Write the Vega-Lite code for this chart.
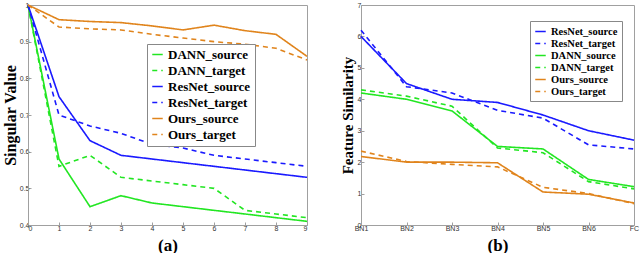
{
  "$schema": "https://vega.github.io/schema/vega-lite/v6.json",
  "background": "white",
  "padding": {"left": 1, "top": 0, "right": 3, "bottom": 0},
  "spacing": 28,
  "config": {
    "view": {"stroke": "#a0a0a0", "strokeWidth": 1},
    "axis": {"grid": false, "labelFont": "Liberation Sans", "labelFontSize": 7, "labelColor": "#333", "domainColor": "#a0a0a0", "tickColor": "#a0a0a0", "tickSize": -3, "labelPadding": 3, "titleFont": "Liberation Serif", "titleFontWeight": "bold", "titleColor": "#000"},
    "legend": {"title": null, "orient": "none", "fillColor": "white", "strokeColor": "#888", "symbolType": "stroke", "symbolStrokeWidth": 1.6, "labelFont": "Liberation Serif", "labelFontWeight": "bold", "labelColor": "#000", "labelLimit": 300}
  },
  "resolve": {"scale": {"color": "independent", "strokeDash": "independent"}, "legend": {"color": "independent", "strokeDash": "independent"}},
  "hconcat": [
    {
      "width": 279,
      "height": 220,
      "data": {"values": [
        {"x": 0, "v": 1, "s": "DANN_source"}, {"x": 1, "v": 0.58, "s": "DANN_source"}, {"x": 2, "v": 0.45, "s": "DANN_source"}, {"x": 3, "v": 0.48, "s": "DANN_source"}, {"x": 4, "v": 0.46, "s": "DANN_source"}, {"x": 5, "v": 0.45, "s": "DANN_source"}, {"x": 6, "v": 0.44, "s": "DANN_source"}, {"x": 7, "v": 0.43, "s": "DANN_source"}, {"x": 8, "v": 0.42, "s": "DANN_source"}, {"x": 9, "v": 0.41, "s": "DANN_source"},
        {"x": 0, "v": 1, "s": "DANN_target"}, {"x": 1, "v": 0.56, "s": "DANN_target"}, {"x": 2, "v": 0.59, "s": "DANN_target"}, {"x": 3, "v": 0.53, "s": "DANN_target"}, {"x": 4, "v": 0.52, "s": "DANN_target"}, {"x": 5, "v": 0.51, "s": "DANN_target"}, {"x": 6, "v": 0.5, "s": "DANN_target"}, {"x": 7, "v": 0.44, "s": "DANN_target"}, {"x": 8, "v": 0.43, "s": "DANN_target"}, {"x": 9, "v": 0.42, "s": "DANN_target"},
        {"x": 0, "v": 1, "s": "ResNet_source"}, {"x": 1, "v": 0.75, "s": "ResNet_source"}, {"x": 2, "v": 0.63, "s": "ResNet_source"}, {"x": 3, "v": 0.59, "s": "ResNet_source"}, {"x": 4, "v": 0.58, "s": "ResNet_source"}, {"x": 5, "v": 0.57, "s": "ResNet_source"}, {"x": 6, "v": 0.56, "s": "ResNet_source"}, {"x": 7, "v": 0.55, "s": "ResNet_source"}, {"x": 8, "v": 0.54, "s": "ResNet_source"}, {"x": 9, "v": 0.53, "s": "ResNet_source"},
        {"x": 0, "v": 1, "s": "ResNet_target"}, {"x": 1, "v": 0.7, "s": "ResNet_target"}, {"x": 2, "v": 0.67, "s": "ResNet_target"}, {"x": 3, "v": 0.65, "s": "ResNet_target"}, {"x": 4, "v": 0.62, "s": "ResNet_target"}, {"x": 5, "v": 0.61, "s": "ResNet_target"}, {"x": 6, "v": 0.59, "s": "ResNet_target"}, {"x": 7, "v": 0.58, "s": "ResNet_target"}, {"x": 8, "v": 0.57, "s": "ResNet_target"}, {"x": 9, "v": 0.56, "s": "ResNet_target"},
        {"x": 0, "v": 1, "s": "Ours_source"}, {"x": 1, "v": 0.96, "s": "Ours_source"}, {"x": 2, "v": 0.955, "s": "Ours_source"}, {"x": 3, "v": 0.952, "s": "Ours_source"}, {"x": 4, "v": 0.943, "s": "Ours_source"}, {"x": 5, "v": 0.932, "s": "Ours_source"}, {"x": 6, "v": 0.945, "s": "Ours_source"}, {"x": 7, "v": 0.93, "s": "Ours_source"}, {"x": 8, "v": 0.92, "s": "Ours_source"}, {"x": 9, "v": 0.86, "s": "Ours_source"},
        {"x": 0, "v": 1, "s": "Ours_target"}, {"x": 1, "v": 0.94, "s": "Ours_target"}, {"x": 2, "v": 0.935, "s": "Ours_target"}, {"x": 3, "v": 0.932, "s": "Ours_target"}, {"x": 4, "v": 0.92, "s": "Ours_target"}, {"x": 5, "v": 0.91, "s": "Ours_target"}, {"x": 6, "v": 0.9, "s": "Ours_target"}, {"x": 7, "v": 0.893, "s": "Ours_target"}, {"x": 8, "v": 0.882, "s": "Ours_target"}, {"x": 9, "v": 0.85, "s": "Ours_target"}
      ]},
      "mark": {"type": "line", "strokeWidth": 1.6},
      "encoding": {
        "x": {"field": "x", "type": "quantitative", "scale": {"domain": [0, 9], "nice": false}, "axis": {"values": [0, 1, 2, 3, 4, 5, 6, 7, 8, 9], "title": "(a)", "titleFontSize": 17, "titlePadding": 6, "labelPadding": 2}},
        "y": {"field": "v", "type": "quantitative", "scale": {"domain": [0.4, 1], "nice": false, "zero": false}, "axis": {"values": [0.4, 0.5, 0.6, 0.7, 0.8, 0.9, 1], "format": "~g", "title": "Singular Value", "titleFontSize": 16, "titlePadding": 1, "labelPadding": 2}},
        "color": {"field": "s", "type": "nominal", "scale": {"domain": ["DANN_source", "DANN_target", "ResNet_source", "ResNet_target", "Ours_source", "Ours_target"], "range": ["#22e622", "#22e622", "#1a1aff", "#1a1aff", "#e0841c", "#e0841c"]}, "legend": {"legendX": 119, "legendY": 39, "labelFontSize": 13, "rowPadding": 2, "padding": 4, "symbolSize": 110}},
        "strokeDash": {"field": "s", "type": "nominal", "scale": {"domain": ["DANN_source", "DANN_target", "ResNet_source", "ResNet_target", "Ours_source", "Ours_target"], "range": [[1, 0], [5, 4], [1, 0], [5, 4], [1, 0], [5, 4]]}, "legend": {"legendX": 119, "legendY": 39, "labelFontSize": 13, "rowPadding": 2, "padding": 4, "symbolSize": 110}}
      }
    },
    {
      "width": 273,
      "height": 220,
      "data": {"values": [
        {"x": "BN1", "v": 6.0, "s": "ResNet_source"}, {"x": "BN2", "v": 4.5, "s": "ResNet_source"}, {"x": "BN3", "v": 4.0, "s": "ResNet_source"}, {"x": "BN4", "v": 3.9, "s": "ResNet_source"}, {"x": "BN5", "v": 3.5, "s": "ResNet_source"}, {"x": "BN6", "v": 3.0, "s": "ResNet_source"}, {"x": "FC", "v": 2.7, "s": "ResNet_source"},
        {"x": "BN1", "v": 6.2, "s": "ResNet_target"}, {"x": "BN2", "v": 4.4, "s": "ResNet_target"}, {"x": "BN3", "v": 4.2, "s": "ResNet_target"}, {"x": "BN4", "v": 3.65, "s": "ResNet_target"}, {"x": "BN5", "v": 3.4, "s": "ResNet_target"}, {"x": "BN6", "v": 2.55, "s": "ResNet_target"}, {"x": "FC", "v": 2.42, "s": "ResNet_target"},
        {"x": "BN1", "v": 4.2, "s": "DANN_source"}, {"x": "BN2", "v": 4.0, "s": "DANN_source"}, {"x": "BN3", "v": 3.63, "s": "DANN_source"}, {"x": "BN4", "v": 2.5, "s": "DANN_source"}, {"x": "BN5", "v": 2.42, "s": "DANN_source"}, {"x": "BN6", "v": 1.45, "s": "DANN_source"}, {"x": "FC", "v": 1.22, "s": "DANN_source"},
        {"x": "BN1", "v": 4.3, "s": "DANN_target"}, {"x": "BN2", "v": 4.1, "s": "DANN_target"}, {"x": "BN3", "v": 3.78, "s": "DANN_target"}, {"x": "BN4", "v": 2.45, "s": "DANN_target"}, {"x": "BN5", "v": 2.3, "s": "DANN_target"}, {"x": "BN6", "v": 1.38, "s": "DANN_target"}, {"x": "FC", "v": 1.15, "s": "DANN_target"},
        {"x": "BN1", "v": 2.18, "s": "Ours_source"}, {"x": "BN2", "v": 2.0, "s": "Ours_source"}, {"x": "BN3", "v": 2.0, "s": "Ours_source"}, {"x": "BN4", "v": 1.98, "s": "Ours_source"}, {"x": "BN5", "v": 1.05, "s": "Ours_source"}, {"x": "BN6", "v": 0.98, "s": "Ours_source"}, {"x": "FC", "v": 0.7, "s": "Ours_source"},
        {"x": "BN1", "v": 2.35, "s": "Ours_target"}, {"x": "BN2", "v": 2.02, "s": "Ours_target"}, {"x": "BN3", "v": 1.93, "s": "Ours_target"}, {"x": "BN4", "v": 1.85, "s": "Ours_target"}, {"x": "BN5", "v": 1.2, "s": "Ours_target"}, {"x": "BN6", "v": 1.0, "s": "Ours_target"}, {"x": "FC", "v": 0.68, "s": "Ours_target"}
      ]},
      "mark": {"type": "line", "strokeWidth": 1.6},
      "encoding": {
        "x": {"field": "x", "type": "ordinal", "sort": ["BN1", "BN2", "BN3", "BN4", "BN5", "BN6", "FC"], "scale": {"type": "point", "padding": 0}, "axis": {"labelAngle": 0, "title": "(b)", "titleFontSize": 17, "titlePadding": 6, "labelPadding": 2}},
        "y": {"field": "v", "type": "quantitative", "scale": {"domain": [0, 7], "nice": false}, "axis": {"values": [0, 1, 2, 3, 4, 5, 6, 7], "title": "Feature Similarity", "titleFontSize": 15, "titlePadding": 2, "labelPadding": 3}},
        "color": {"field": "s", "type": "nominal", "scale": {"domain": ["ResNet_source", "ResNet_target", "DANN_source", "DANN_target", "Ours_source", "Ours_target"], "range": ["#1a1aff", "#1a1aff", "#22e622", "#22e622", "#e0841c", "#e0841c"]}, "legend": {"legendX": 169, "legendY": 16, "labelFontSize": 10.5, "rowPadding": 0, "padding": 4, "symbolSize": 110}},
        "strokeDash": {"field": "s", "type": "nominal", "scale": {"domain": ["ResNet_source", "ResNet_target", "DANN_source", "DANN_target", "Ours_source", "Ours_target"], "range": [[1, 0], [5, 4], [1, 0], [5, 4], [1, 0], [5, 4]]}, "legend": {"legendX": 169, "legendY": 16, "labelFontSize": 10.5, "rowPadding": 0, "padding": 4, "symbolSize": 110}}
      }
    }
  ]
}
